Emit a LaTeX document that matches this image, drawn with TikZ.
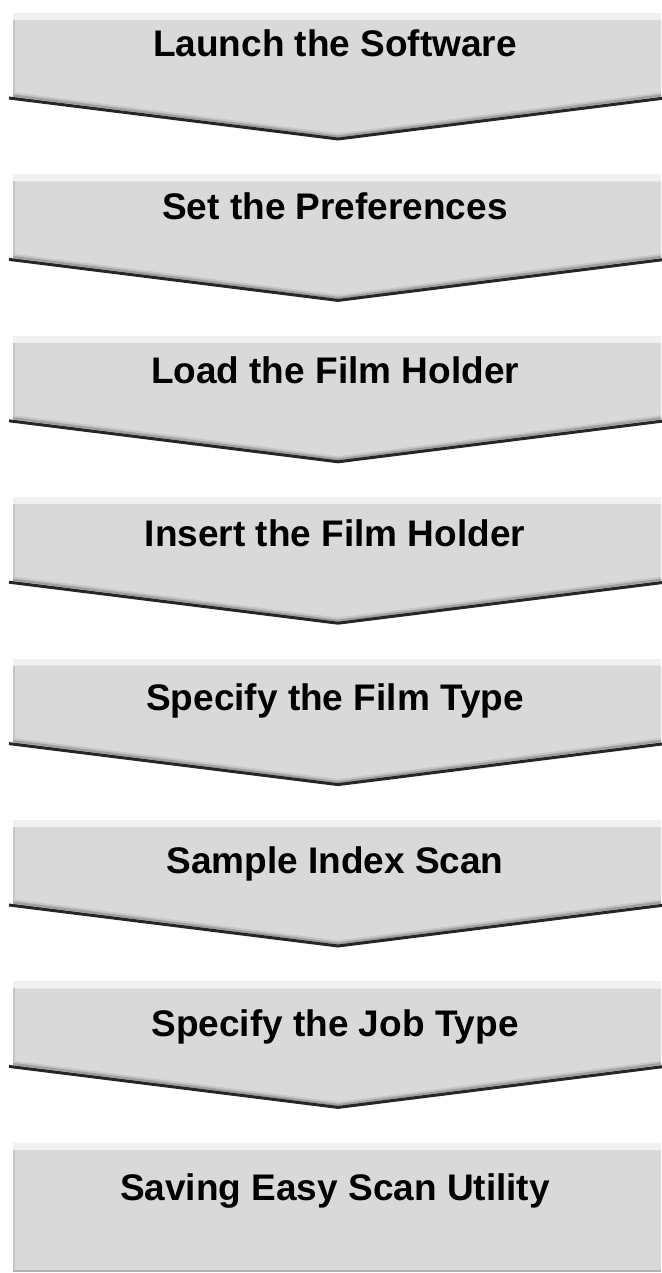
\documentclass[tikz,border=0pt]{standalone}
\usepackage{fontspec}
\setmainfont{Liberation Sans}
\usetikzlibrary{positioning}
\definecolor{boxgray}{RGB}{217,217,217}
\definecolor{rimgray}{RGB}{241,241,241}
\definecolor{edgegray}{RGB}{196,196,196}

\begin{document}
\begin{tikzpicture}[x=1pt, y=-1pt, node distance=163.4pt,
  main node/.style={font=\fontsize{37}{40}\selectfont\bfseries, inner sep=0pt, text height=27pt, text depth=0pt},
  chevron/.style={fill=boxgray, draw=none},
  rim/.style={fill=rimgray, draw=none},
  shade line/.style={line width=2.2pt, line join=miter}]
\useasboundingbox (0,0) rectangle (661,1273);

% arrow shapes
\foreach \k in {0,...,6} {
  \pgfmathsetmacro{\ytop}{20+161.4*\k}
  \fill[rim] (13,\ytop-7) rectangle (661,\ytop);
  \path[chevron] (13,\ytop) -- (661,\ytop) -- (661,\ytop+78) -- (338,\ytop+119) -- (13,\ytop+78) -- cycle;
  \draw[edgegray, line width=1.5pt] (14,\ytop) -- (14,\ytop+76);
  \draw[shade line, gray!45] (13,\ytop+73.5) -- (338,\ytop+114.5) -- (661,\ytop+73.5);
  \draw[shade line, gray!75] (13,\ytop+75.5) -- (338,\ytop+116.5) -- (661,\ytop+75.5);
  \draw[line width=3pt, black!85] (9,\ytop+78) -- (338,\ytop+119) -- (665,\ytop+78);
}
% last box
\fill[rim] (13,1143) rectangle (661,1150);
\path[chevron] (13,1150) rectangle (661,1270);
\draw[edgegray, line width=1.5pt] (14,1150) -- (14,1270);
\draw[gray!60, line width=2pt] (13,1271) -- (661,1271);

\node[main node] at (335,43) (launch) {Launch the Software};
\node[main node, below of=launch] (prefs) {Set the Preferences};
\node[main node, below of=prefs] (load) {Load the Film Holder};
\node[main node, below of=load] (insert) {Insert the Film Holder};
\node[main node, below of=insert] (filmtype) {Specify the Film Type};
\node[main node, below of=filmtype] (index) {Sample Index Scan};
\node[main node, below of=index] (jobtype) {Specify the Job Type};
\node[main node, below of=jobtype] (saving) {Saving Easy Scan Utility};
\end{tikzpicture}
\end{document}
